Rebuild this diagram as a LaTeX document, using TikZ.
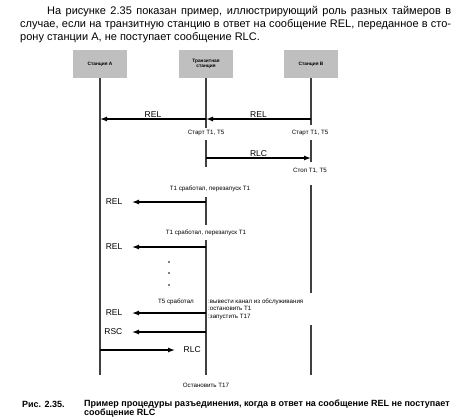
\documentclass[tikz,border=0pt]{standalone}
\usepackage{fontspec}
\setmainfont{Liberation Sans}
\usetikzlibrary{arrows.meta}
\begin{document}
\begin{tikzpicture}[x=1pt,y=-1pt,
  station/.style={fill=gray!50, minimum width=54pt, minimum height=28pt, inner sep=1pt,
    font=\fontsize{4.8}{5.6}\selectfont\bfseries, align=center},
  life/.style={line width=1.8pt, draw=gray!50!black},
  msg/.style={line width=1.3pt, -{Latex[length=7pt,width=5pt]}},
  lbl/.style={font=\fontsize{8.5}{10}\selectfont, inner sep=1pt},
  note/.style={font=\fontsize{6.2}{7.5}\selectfont, inner sep=0pt},
  para/.style={font=\fontsize{11}{13}\selectfont, inner sep=0pt, anchor=west},
  captext/.style={font=\fontsize{9}{11}\selectfont\bfseries, inner sep=0pt, anchor=west},
  dot/.style={circle, fill=black, inner sep=0pt, minimum size=1.8pt},
]
\useasboundingbox (0,0) rectangle (458,418);
\fill[white] (0,0) rectangle (458,418);

% paragraph
\node[para] (p1) at (47,12) {\makebox[404pt][s]{На рисунке 2.35 показан пример, иллюстрирующий роль разных таймеров в}};
\node[para] (p2) at (20,25) {\makebox[431pt][s]{случае, если на транзитную станцию в ответ на сообщение REL, переданное в сто-}};
\node[para] (p3) at (20,38) {рону станции A, не поступает сообщение RLC.};

% stations
\node[station] (A) at (100,64) {Станция A};
\node[station] (T) at (206,64) {Транзитная\\станция};
\node[station] (B) at (311,64) {Станция B};

% lifelines
\draw[life] (A.south) -- (A.south |- 0,375);
\draw[life] (T.south) -- (T.south |- 0,128)
  (T.south |- 0,140) -- (T.south |- 0,167)
  (T.south |- 0,197) -- (T.south |- 0,225)
  (T.south |- 0,240) -- (T.south |- 0,375);
\draw[life] (B.south) -- (B.south |- 0,125)
  (B.south |- 0,140) -- (B.south |- 0,162)
  (B.south |- 0,185) -- (B.south |- 0,293)
  (B.south |- 0,325) -- (B.south |- 0,375);

% coordinates on lifelines
\coordinate (A119) at (A.south |- 0,119);
\coordinate (T119) at (T.south |- 0,119);
\coordinate (B119) at (B.south |- 0,119);
\coordinate (T158) at (T.south |- 0,158);
\coordinate (B158) at (B.south |- 0,158);
\coordinate (T202) at (T.south |- 0,202);
\coordinate (T247) at (T.south |- 0,247);
\coordinate (T313) at (T.south |- 0,313);
\coordinate (T332) at (T.south |- 0,332);
\coordinate (A350) at (A.south |- 0,350);
\coordinate (e202) at (132,202);
\coordinate (e247) at (132,247);
\coordinate (e313) at (132,313);
\coordinate (e332) at (132,332);
\coordinate (e350) at (175,350);

% messages
\draw[msg] (T119) -- node[lbl, above] {REL} (A119);
\draw[msg] (B119) -- node[lbl, above] {REL} (T119);
\node[note] (s1) at (206,133) {Старт T1, T5};
\node[note] (s2) at (310,133) {Старт T1, T5};
\draw[msg] (T158) -- node[lbl, above] {RLC} (B158);
\node[note] (s3) at (310,171) {Стоп T1, T5};

\node[note] (n1) at (210,189) {T1 сработал, перезапуск T1};
\draw[msg] (T202) -- (e202) node[lbl, left=8pt] {REL};
\node[note] (n2) at (206,233) {T1 сработал, перезапуск T1};
\draw[msg] (T247) -- (e247) node[lbl, left=8pt] {REL};

\node[dot] (d1) at (169,262) {};
\node[dot] (d2) at (169,273) {};
\node[dot] (d3) at (169,285) {};

\node[note] (n3) at (176,302) {T5 сработал};
\node[note, anchor=north west, align=left] (n4) at (208,298.5)
  {:вывести канал из обслуживания\\:остановить T1\\:запустить T17};
\draw[msg] (T313) -- (e313) node[lbl, left=8pt] {REL};
\draw[msg] (T332) -- (e332) node[lbl, left=8pt] {RSC};
\draw[msg] (A350) -- (e350) node[lbl, right=7pt] {RLC};

\node[note] (n5) at (206,385) {Остановить T17};

% caption
\node[captext] (c1) at (22,404) {Рис. 2.35.};
\node[captext] (c2) at (84,404) {Пример процедуры разъединения, когда в ответ на сообщение REL не поступает};
\node[captext] (c3) at (84,413.5) {сообщение RLC};
\end{tikzpicture}
\end{document}
